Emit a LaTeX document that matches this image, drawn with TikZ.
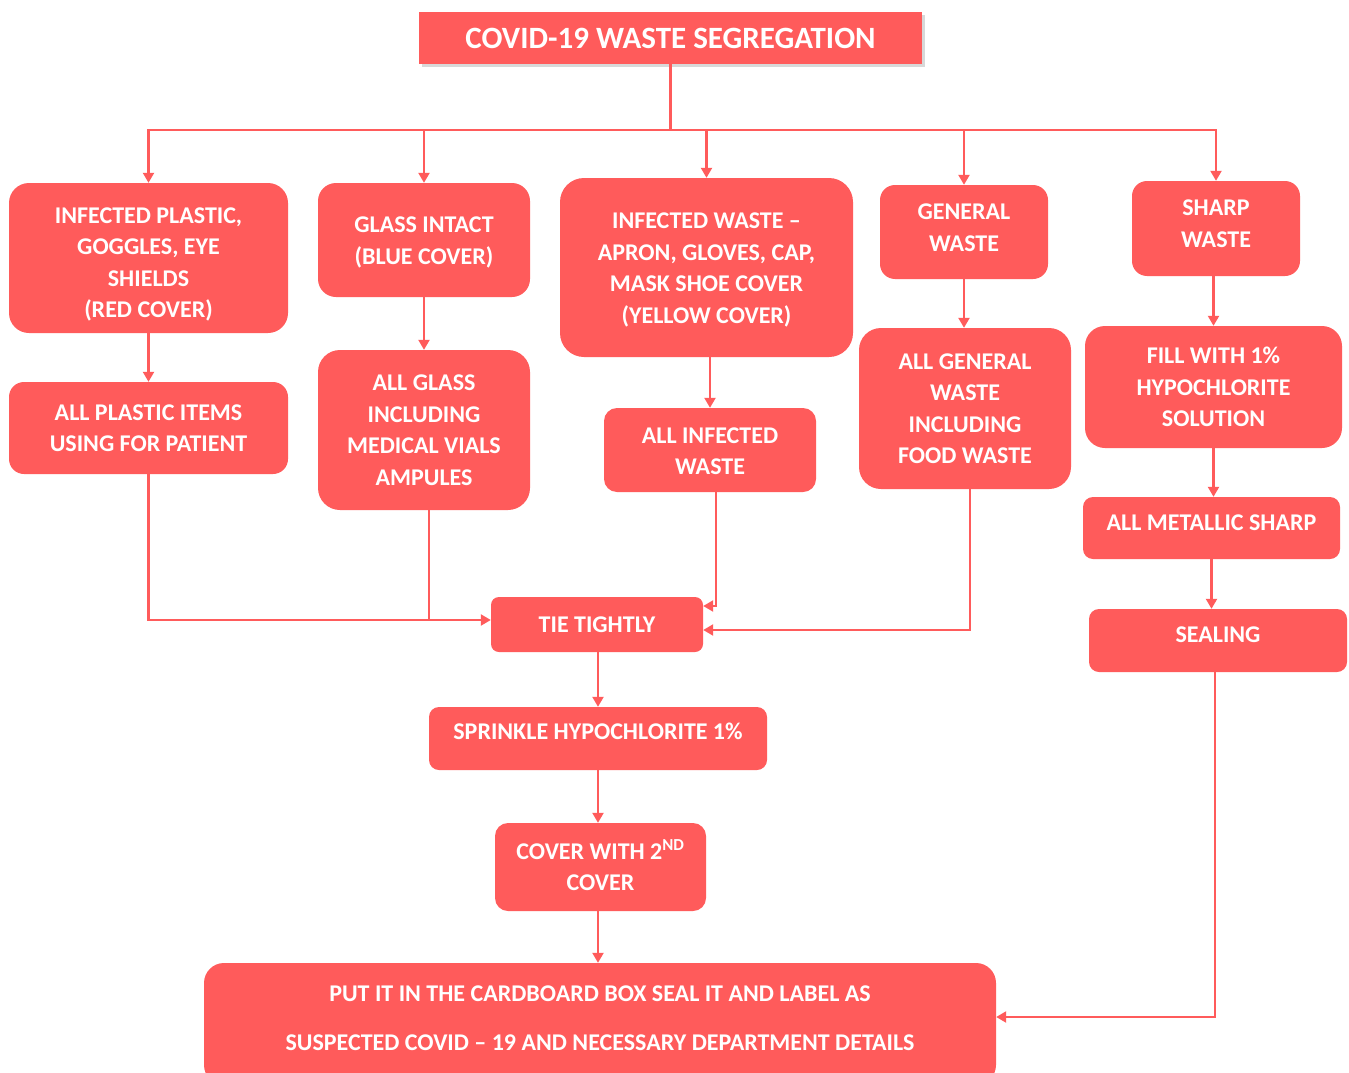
\documentclass[tikz,border=0pt]{standalone}
\usepackage{fontspec}
\setmainfont{Carlito}
\usetikzlibrary{arrows.meta,shadows}
\definecolor{cred}{RGB}{255,91,91}
\newcommand{\rtext}[2]{\raisebox{#1}[\height][\depth]{\begin{tabular}{@{}c@{}}#2\end{tabular}}}
\begin{document}
\begin{tikzpicture}[x=1pt,y=-1pt,
  wbox/.style={fill=cred, text=white, font=\bfseries\fontsize{24}{31.5}\selectfont,
    align=center, inner sep=0pt, rounded corners=#1},
  wbox/.default=15pt,
  conn/.style={draw=cred, line width=2.2pt},
  conna/.style={conn, -{Triangle[length=10pt,width=11pt]}}]
\useasboundingbox (0,0) rectangle (1349,1073);
\fill[white] (0,0) rectangle (1349,1073);
\clip (0,0) rectangle (1349,1073);

% title
\node[wbox=0pt, font=\bfseries\fontsize{31}{32}\selectfont, minimum width=503pt, minimum height=52pt,
  drop shadow={shadow xshift=3pt, shadow yshift=-3pt, opacity=0.25, fill=black!60}] (T) at (670.5,38) {COVID-19 WASTE SEGREGATION};

% row 1
\node[wbox=20pt, minimum width=279pt, minimum height=150pt] (A1) at (148.5,258) {\rtext{-6pt}{INFECTED PLASTIC,\\GOGGLES, EYE\\SHIELDS\\(RED COVER)}};
\node[wbox=18pt, minimum width=212pt, minimum height=114pt] (B1) at (424,240) {\rtext{-2pt}{GLASS INTACT\\(BLUE COVER)}};
\node[wbox=24pt, minimum width=293pt, minimum height=179pt] (C1) at (706.5,267.5) {\rtext{-2pt}{INFECTED WASTE --\\APRON, GLOVES, CAP,\\MASK SHOE COVER\\(YELLOW COVER)}};
\node[wbox=15pt, minimum width=168pt, minimum height=94pt] (D1) at (964,232) {\rtext{3pt}{GENERAL\\WASTE}};
\node[wbox=15pt, minimum width=168pt, minimum height=95pt] (E1) at (1216,228.5) {\rtext{3.5pt}{SHARP\\WASTE}};

% row 2
\node[wbox=15pt, minimum width=279pt, minimum height=92pt] (A2) at (148.5,428) {ALL PLASTIC ITEMS\\USING FOR PATIENT};
\node[wbox=22pt, minimum width=212pt, minimum height=160pt] (B2) at (424,430) {ALL GLASS\\INCLUDING\\MEDICAL VIALS\\AMPULES};
\node[wbox=13pt, minimum width=212pt, minimum height=84pt] (C2) at (710,450) {\rtext{-2.5pt}{ALL INFECTED\\WASTE}};
\node[wbox=22pt, minimum width=212pt, minimum height=161pt] (D2) at (965,408.5) {ALL GENERAL\\WASTE\\INCLUDING\\FOOD WASTE};
\node[wbox=20pt, minimum width=257pt, minimum height=122pt] (E2) at (1213.5,387) {\rtext{-2pt}{FILL WITH 1\%\\HYPOCHLORITE\\SOLUTION}};
\node[wbox=10pt, minimum width=257pt, minimum height=62pt] (E3) at (1211.5,528) {\rtext{4pt}{ALL METALLIC SHARP}};
\node[wbox=10pt, minimum width=258pt, minimum height=63pt] (E4) at (1218,640.5) {\rtext{4pt}{SEALING}};

% centre chain
\node[wbox=8pt, minimum width=212pt, minimum height=55pt] (Tie) at (597,624.5) {TIE TIGHTLY};
\node[wbox=10pt, minimum width=338pt, minimum height=63pt] (Spr) at (598,738.5) {\rtext{5pt}{SPRINKLE HYPOCHLORITE 1\%}};
\node[wbox=13pt, minimum width=211pt, minimum height=88pt] (Cov) at (600.5,867) {\rtext{-1.5pt}{COVER WITH 2\textsuperscript{ND}\\COVER}};
\node[wbox=20pt, minimum width=792pt, minimum height=122pt] (Fin) at (600,1024)
  {\raisebox{4.5pt}[\height][\depth]{\begin{tabular}{@{}c@{}}PUT IT IN THE CARDBOARD BOX SEAL IT AND LABEL AS\\[17.5pt]SUSPECTED COVID -- 19 AND NECESSARY DEPARTMENT DETAILS\end{tabular}}};

% bus
\coordinate (bus) at (670.5,130);
\draw[conn] (T.south) -- (bus);
\draw[conna] (bus) -| (A1.north);
\draw[conna] (bus) -| (E1.north);
\draw[conna] (B1.north |- bus) -- (B1.north);
\draw[conna] (C1.north |- bus) -- (C1.north);
\draw[conna] (D1.north |- bus) -- (D1.north);

% row1 -> row2
\draw[conna] (A1.south) -- (A2.north);
\draw[conna] (B1.south) -- (B2.north);
\draw[conna] (C2.north |- C1.south) -- (C2.north);
\draw[conna] (D1.south) -- (D1.south |- D2.north);
\draw[conna] (E2.north |- E1.south) -- (E2.north);
\draw[conna] (E2.south) -- (E2.south |- E3.north);
\draw[conna] (E3.south) -- (E3.south |- E4.north);

% into tie
\draw[conna] (A2.south) |- ([yshift=4.5pt]Tie.west);
\coordinate (jB) at (429,620);
\draw[conn] (B2.south -| jB) -- (jB);
\draw[conna] ([xshift=6pt]C2.south) |- ([yshift=18.5pt]Tie.east);
\draw[conna] ([xshift=5pt]D2.south) |- ([yshift=-5.5pt]Tie.east);

% chain
\draw[conna] (Spr.north |- Tie.south) -- (Spr.north);
\draw[conna] (Spr.south) -- (Spr.south |- Cov.north);
\draw[conna] (Spr.south |- Cov.south) -- (Spr.south |- Fin.north);
\draw[conna] ([xshift=-3pt]E4.south) |- ([yshift=7pt]Fin.east);
\end{tikzpicture}
\end{document}
